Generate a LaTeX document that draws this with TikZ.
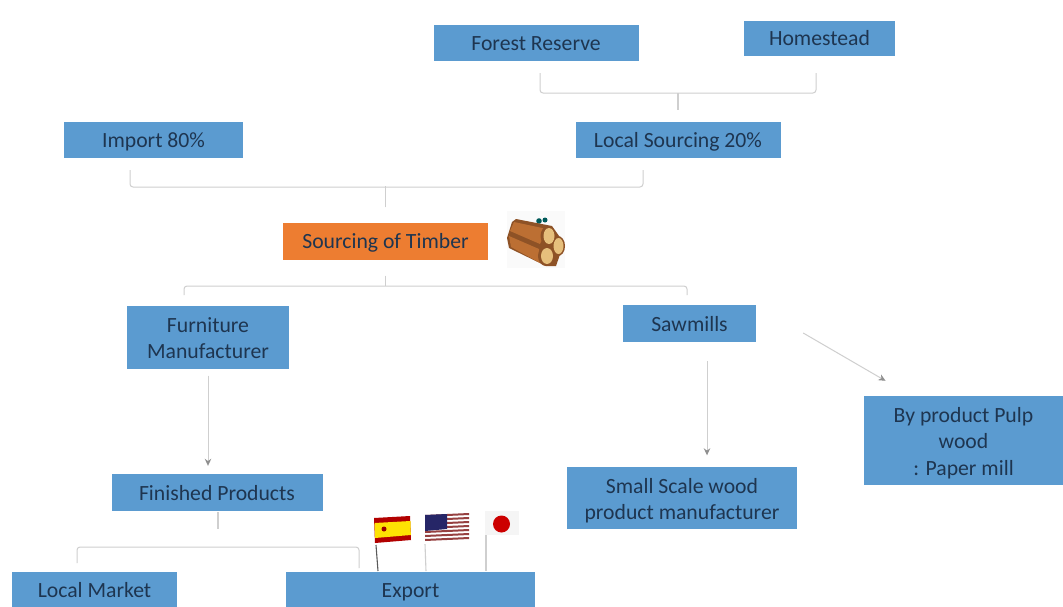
\documentclass[tikz,border=0pt]{standalone}
\usepackage{fontspec}
\setmainfont{Carlito}
\usetikzlibrary{arrows.meta,calc}
\definecolor{boxblue}{HTML}{5B9BD0}
\definecolor{boxorange}{HTML}{ED7D31}
\definecolor{txt}{HTML}{1E3550}
\definecolor{ln}{HTML}{CFCFCF}
\definecolor{tipc}{HTML}{8F8F8F}
\definecolor{wooda}{HTML}{BC6F33}
\definecolor{woodb}{HTML}{8E5226}
\definecolor{woodc}{HTML}{E6BF7C}
\tikzset{x=1pt,y=-1pt,
  boxn/.style={fill=boxblue,text=txt,font=\fontsize{21.7}{26.5}\selectfont,align=center,inner sep=0pt,anchor=center},
  oneline/.style={text height=19pt,text depth=4pt},
  brk/.style={draw=ln,line width=1pt,rounded corners=3pt},
  stem/.style={draw=ln,line width=1.2pt},
  arr/.style={draw=ln,line width=1pt,-{Stealth[length=7pt,width=6.5pt,color=tipc]}},
  pole/.style={draw=#1,line width=1.1pt}
}
\newcommand{\bx}[6][boxblue]{\node[boxn,oneline,fill=#1,minimum width=#4 pt,minimum height=#5 pt] (#2) at (#3) {#6};}
\newcommand{\bxm}[5]{\node[boxn,minimum width=#3 pt,minimum height=#4 pt] (#1) at (#2) {#5};}
\begin{document}
\begin{tikzpicture}
\useasboundingbox (0,0) rectangle (1063,606);
\fill[white] (0,0) rectangle (1063,606);
\bx{forest}{536,43}{205}{36}{Forest Reserve}
\bx{home}{819.5,38}{151}{35}{Homestead}
\bx{import}{153.5,140}{179}{36}{Import 80\%}
\bx{local}{678,140}{205}{36}{Local Sourcing 20\%}
\bx[boxorange]{timber}{385.5,241}{205}{37}{Sourcing of Timber}
\bxm{furn}{208,337}{162}{63}{\rule{0pt}{17pt}Furniture\\Manufacturer}
\bx{saw}{689.5,323.5}{133}{37}{Sawmills}
\bxm{pulp}{963.5,440.5}{199}{89}{\rule{0pt}{20pt}By product Pulp\\wood\\: Paper mill}
\bxm{small}{682,497.5}{230}{62}{\rule{0pt}{21pt}Small Scale wood\\product manufacturer}
\bx{fin}{217,492.5}{211}{37}{Finished Products}
\bx{lm}{94.5,590}{165}{36}{Local Market}
\bx{exp}{410.5,590}{249}{37}{Export}
% brackets
\draw[brk] (540,73) -- (540,93) -- (816,93) -- (816,73);
\draw[stem] ([yshift=12]local.north) -- ([yshift=29]local.north);
\draw[brk] (130,170) -- (130,187) -- (643,187) -- (643,170);
\draw[stem] ([yshift=15]timber.north) -- ([yshift=36]timber.north);
\draw[brk] (184,295) -- (184,286) -- (687,286) -- (687,295);
\draw[stem] ([yshift=-16]timber.south) -- ([yshift=-26]timber.south);
\draw[brk] (77,563) -- (77,547) -- (359,547) -- (359,568);
\draw[stem] ([xshift=1,yshift=-1]fin.south) -- ([xshift=1,yshift=-18]fin.south);
% arrows
\draw[arr] ([yshift=-7]furn.south) -- ([xshift=-9,yshift=8]fin.north);
\draw[arr] ([xshift=17.5,yshift=-19]saw.south) -- ([xshift=25,yshift=11]small.north);
\draw[arr] ([xshift=47,yshift=-9.5]saw.east) -- ([xshift=-78,yshift=15]pulp.north);
% flags
\draw[pole={gray!70!black}] (376,545) -- (378,571);
\fill[red!70!black] (374,518) -- (410,516) -- (411,540) -- (375,543) -- cycle;
\fill[yellow!85!orange] (374.5,523) -- (410.5,521) -- (410.8,535) -- (375,538) -- cycle;
\fill[red!60!black] (384,529) circle (2.5);
\draw[pole=ln] (425,544) -- (426,571);
\fill[white] (425,515) -- (469,513) -- (470,541) -- (425,544) -- cycle;
\foreach \i in {0,...,6}{\fill[red!45!black!75!white] (425,{515+4*\i}) -- (469,{513+4*\i}) -- (469,{515+4*\i}) -- (425,{517+4*\i}) -- cycle;}
\fill[blue!30!black!85!white] (425,515) -- (447,514) -- (447,529) -- (425,531) -- cycle;
\draw[pole=ln] (486,535) -- (486,571);
\fill[gray!8] (485,511) rectangle (519,535);
\fill[red!80!black] (501.5,524) circle (8.5);
% logs
\fill[gray!4] (507,211) rectangle (565,268);
\fill[teal!70!black] (539,221) circle (2.8);
\fill[teal!70!black] (545,220) circle (2.5);
\fill[woodb] (512,222) -- (516,219) -- (552,226) -- (564,243) -- (556,266) -- (546,266) -- (509,248) -- (507,238) -- cycle;
\fill[wooda] (514,222) -- (547,229) -- (540,244) -- (510,231) -- cycle;
\fill[wooda] (509,236) -- (539,249) -- (540,263) -- (511,247) -- cycle;
\fill[woodb] (558,246) ellipse (7 and 10);
\fill[woodc] (558.5,246) ellipse (5 and 8);
\fill[woodb] (548,236) ellipse (7.5 and 10);
\fill[woodc] (549,236) ellipse (5.5 and 8);
\fill[woodb] (546,256) ellipse (8 and 10);
\fill[woodc] (547,256) ellipse (6 and 8);
\end{tikzpicture}
\end{document}
